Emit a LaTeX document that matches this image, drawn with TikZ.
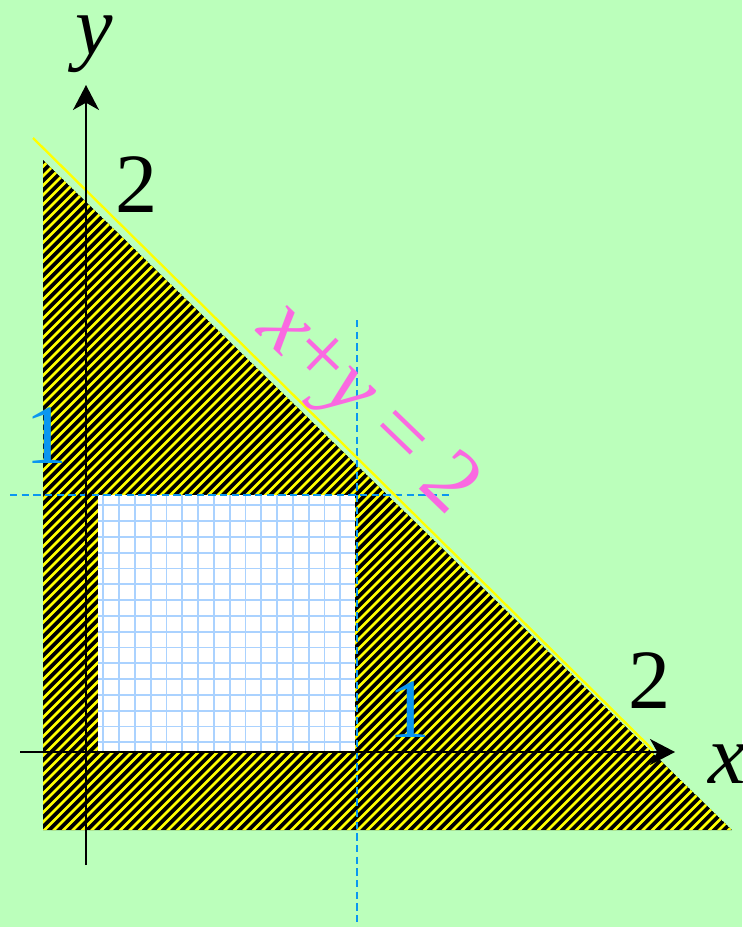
\documentclass[tikz,border=0pt]{standalone}
\usepackage{fontspec}
\setmainfont{Liberation Serif}
\usetikzlibrary{arrows.meta}
\definecolor{bggreen}{RGB}{187,255,187}
\definecolor{guideblue}{RGB}{10,150,240}
\definecolor{gridblue}{RGB}{170,210,255}
\definecolor{stripeyellow}{RGB}{255,255,0}
\definecolor{labelpink}{RGB}{250,105,225}
\begin{document}
\begin{tikzpicture}[x=0.3mm,y=-0.3mm,
    axis/.style={line width=0.5mm,-{Stealth[length=7.5mm,width=7.8mm,inset=2.2mm]}},
    guide/.style={draw=guideblue,line width=0.6mm,dash pattern=on 2.2mm off 1.3mm},
    stripe/.style={draw=stripeyellow,line width=0.8mm},
    gridline/.style={draw=gridblue,line width=0.55mm},
    edge/.style={draw=stripeyellow,line width=0.7mm},
    big/.style={font=\fontsize{72}{72}\selectfont,inner sep=0pt,anchor=base},
    unitlabel/.style={big,text=guideblue},
    eqlabel/.style={font=\fontsize{76}{76}\selectfont,inner sep=0pt,text=labelpink}
]
\fill[bggreen] (0,0) rectangle (742,927);
\useasboundingbox (0,0) rectangle (742,927);
\coordinate (tA) at (43,160);
\coordinate (tB) at (43,830);
\coordinate (tC) at (732,830);
\coordinate (sqA) at (98,495);
\coordinate (sqB) at (355,752);
\begin{scope}
\clip (tA) -- (tB) -- (tC) -- cycle;
\fill[black] (tA) -- (tB) -- (tC) -- cycle;
\foreach \c in {200,209.5,...,1570}
    \draw[stripe] (\c,0) -- (\c-1000,1000);
\end{scope}
\fill[white] (sqA) rectangle (sqB);
\foreach \k in {0,...,15} {
    \draw[gridline] (103.3+15.8*\k,495) -- (103.3+15.8*\k,752);
    \draw[gridline] (98,742.3-15.8*\k) -- (355,742.3-15.8*\k);
}
\coordinate (hL) at (10,495);
\coordinate (hR) at (452,495);
\coordinate (vT) at (357,320);
\coordinate (vB) at (357,927);
\draw[guide] (hL) -- (hR);
\draw[guide] (vT) -- (vB);
\coordinate (lnA) at (33,138);
\coordinate (lnB) at (653,750);
\draw[edge] (lnA) -- (lnB);
\coordinate (xS) at (20,752);
\coordinate (xE) at (675,752);
\coordinate (yS) at (86,865);
\coordinate (yE) at (86,85);
\draw[axis] (xS) -- (xE);
\draw[axis] (yS) -- (yE);
\node[big] (ylab) at (94,54) {\textit{y}};
\node[big] (xlab) at (727,783) {\textit{x}};
\node[big] (ytwo) at (137,212) {2};
\node[big] (xtwo) at (650,708) {2};
\node[unitlabel] (yone) at (47,463) {1};
\node[unitlabel] (xone) at (410,737) {1};
\node[eqlabel,rotate=-44] (eq) at (366,410) {\textit{x}+\textit{y} = 2};
\end{tikzpicture}
\end{document}
